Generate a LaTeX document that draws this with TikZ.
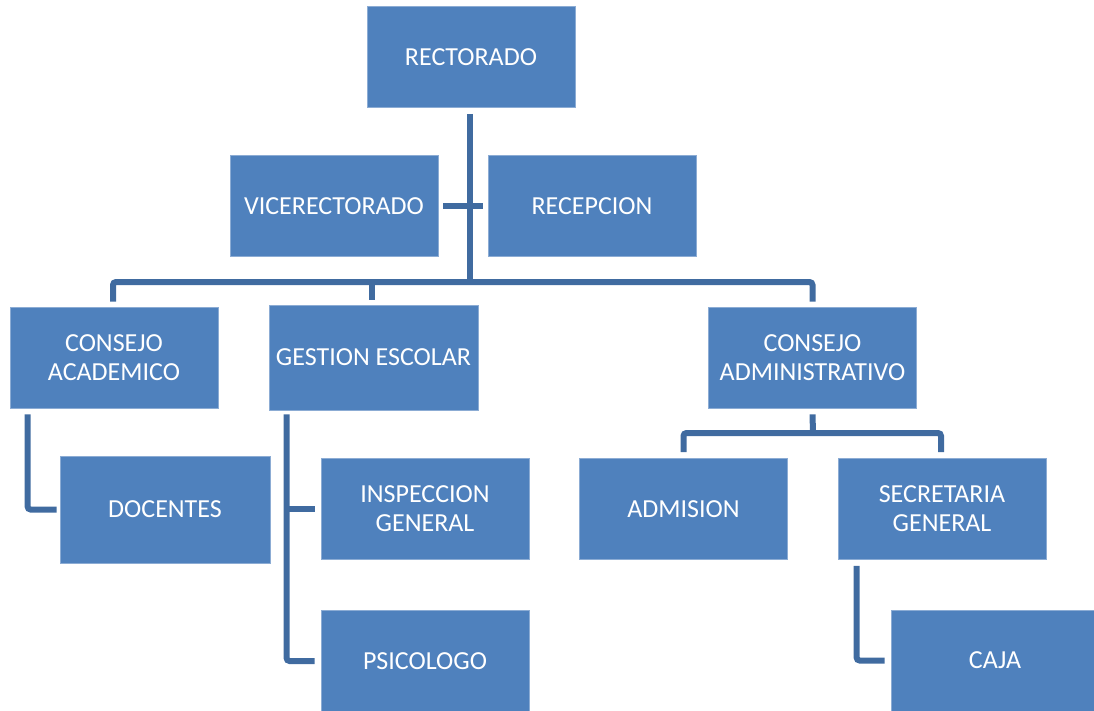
\documentclass[tikz,border=0pt]{standalone}
\usepackage{fontspec}
\setmainfont{Carlito}
\definecolor{OrgBlue}{RGB}{79, 129, 189}
\definecolor{OrgEdge}{RGB}{140, 172, 212}
\definecolor{OrgLine}{RGB}{64, 107, 160}
\usetikzlibrary{calc}
\tikzset{
  orgbox/.style={fill=OrgBlue, draw=OrgEdge, line width=0.8pt, text=white,
    minimum width=208pt, minimum height=101pt, inner sep=0pt, align=center,
    font=\fontsize{26}{29}\selectfont},
  orgline/.style={draw=OrgLine, line width=6pt, rounded corners=3pt}
}

\begin{document}
\begin{tikzpicture}[x=1pt, y=-1pt]
    \useasboundingbox (0,0) rectangle (1094,711);

    % top level
    \node[orgbox] (rect) at (471,57) {RECTORADO};
    \node[orgbox] (vice) at (334,206) {VICERECTORADO};
    \node[orgbox] (recep) at (592,206) {RECEPCION};

    % second level
    \node[orgbox] (acad) at (114,357.5) {CONSEJO\\ACADEMICO};
    \node[orgbox, minimum width=209pt, minimum height=105pt] (gest) at (373.5,357.5) {GESTION ESCOLAR};
    \node[orgbox] (admin) at (812.5,357.5) {CONSEJO\\ADMINISTRATIVO};

    % third level
    \node[orgbox, minimum width=210pt, minimum height=107pt] (doc) at (165,509.5) {DOCENTES};
    \node[orgbox] (insp) at (425,509) {INSPECCION\\GENERAL};
    \node[orgbox] (psic) at (425,661) {PSICOLOGO};
    \node[orgbox] (adm) at (683.5,509) {ADMISION};
    \node[orgbox] (secr) at (942,509) {SECRETARIA\\GENERAL};
    \node[orgbox] (caja) at (995,660.5) {CAJA};

    % connectors
    \coordinate (hub) at (470,282);
    \draw[orgline] ($(rect.south)+(-1,6)$) -- (hub);
    \draw[orgline] ($(vice.east)+(5,0)$) -- ($(recep.west)+(-5,0)$);
    \draw[orgline] ($(acad.north)+(-1,-5)$) |- (hub) -| ($(admin.north)+(0,-5)$);
    \draw[orgline] ($(gest.north)+(-2,-5)$) -- ($(gest.north)+(-2,-25)$);

    \draw[orgline] ($(acad.south west)+(18,6)$) |- ($(doc.west)+(-3,0)$);

    \coordinate (gline) at ($(gest.south west)+(18,4)$);
    \draw[orgline] (gline) |- ($(psic.west)+(-6,0)$);
    \draw[orgline] (gline |- insp.west) -- ($(insp.west)+(-6,0)$);

    \coordinate (adminhub) at (813,433);
    \draw[orgline] ($(admin.south)+(0,6)$) -- (adminhub);
    \draw[orgline] ($(adm.north)+(0,-6)$) |- (adminhub) -| ($(secr.north)+(-1,-6)$);

    \draw[orgline] ($(secr.south west)+(19,6)$) |- ($(caja.west)+(-6,0)$);
  \end{tikzpicture}
\end{document}
